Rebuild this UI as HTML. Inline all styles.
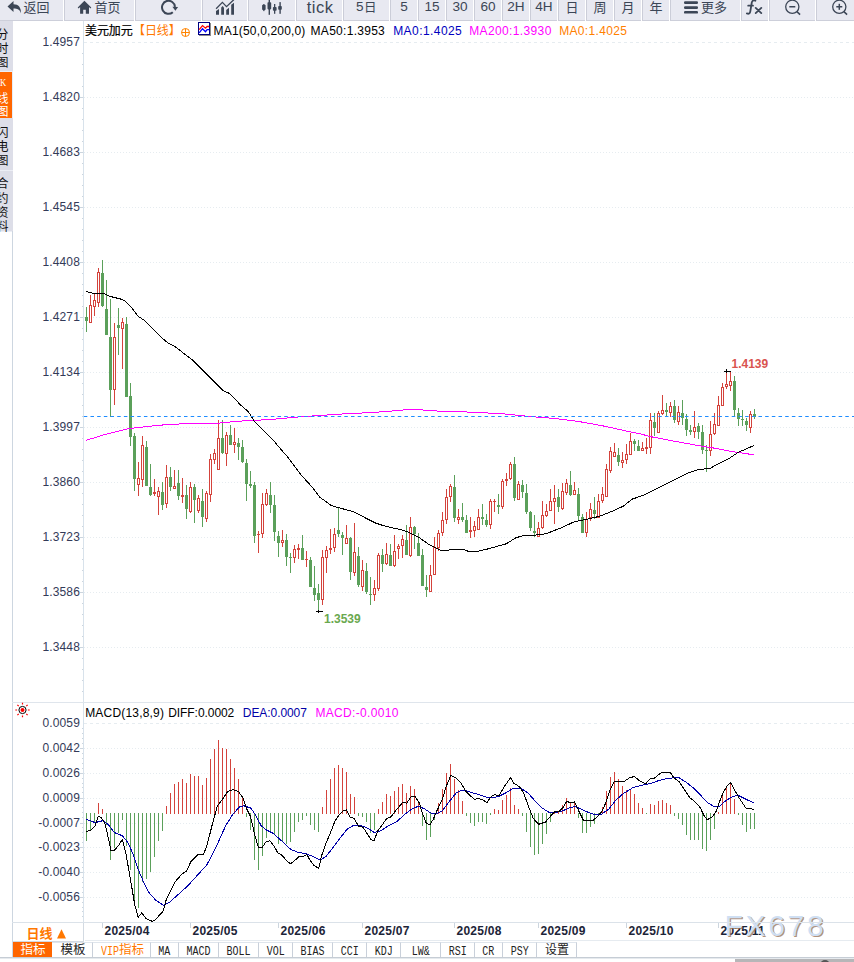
<!DOCTYPE html><html><head><meta charset="utf-8"><title>chart</title><style>
html,body{margin:0;padding:0;background:#fff}
body{width:854px;height:962px;position:relative;overflow:hidden;font-family:"Liberation Sans",sans-serif}
#tb{position:absolute;left:0;top:0;width:854px;height:21px;overflow:hidden}
.t{position:absolute;top:0;height:20px;background:#e8e9f1;border-left:1px solid #cbcdd8;border-bottom:1px solid #cdcfda}.t.f{border-left:0}
.tl{position:absolute;top:-1px;height:16px;line-height:16px;font-size:13.6px;color:#3c4656;text-align:center}
#sb{position:absolute;left:0;top:21px;width:13px;height:210px;background:#dddee8}
.s{position:absolute;left:0;width:13px;border-bottom:1px solid #eceef5}
.s.o{background:#ff6600;border:0;width:12px;border-right:1px solid #e6ecf6}
.s.o span{position:absolute;left:-0.5px;top:3.4px;font:11px/14px "Liberation Serif",serif;color:#fff;transform:scaleX(.78);transform-origin:0 0}
.yl{position:absolute;left:20px;width:60px;text-align:right;font-size:12px;line-height:14px;height:14px;color:#333a58;letter-spacing:.15px}
.h{position:absolute;font-size:12px;line-height:14px;height:14px;white-space:nowrap}
.hl{position:absolute;font-size:12px;font-weight:bold;line-height:14px;white-space:nowrap}
.dl{position:absolute;top:924px;font-size:12px;font-weight:bold;line-height:14px;color:#1c2438;white-space:nowrap;letter-spacing:.25px}
#wm{position:absolute;left:724.5px;top:905.5px;font-size:30px;line-height:40px;letter-spacing:2.7px;color:#cfdff3;text-shadow:1.2px 1.2px 0.6px rgba(150,110,80,.75);white-space:nowrap}
#rl{position:absolute;left:12px;top:922px;width:70px;height:18px;border:1px solid #d3dae2;background:#fff}
#bt{position:absolute;left:13px;top:942px;width:841px;height:15px;background:#fff}#bl{position:absolute;left:0;top:957px;width:854px;height:1px;background:#c6cdd5;border-bottom:1px solid #e6eaee}
.b{position:absolute;top:0;height:14px;border-top:1px solid #dfe5ec;border-right:1px solid #c9d0da;text-align:center;overflow:hidden;font:12px/18px "Liberation Mono",monospace}
.b span{display:inline-block;font:12px/18px "Liberation Mono",monospace;color:#222;transform:scaleX(.833);transform-origin:50% 50%;letter-spacing:0}
.b.o{background:#ff6600;border-top-color:#ff6600;border-right-color:#ff6600}
.b.v span{color:#ff7800;position:absolute;left:7.5px;top:0;transform-origin:0 50%}
#sc{position:absolute;left:735px;top:959px;width:119px;height:3px;background:#b6b6b8;overflow:hidden}#sc i{position:absolute;left:85px;top:1px;width:10px;height:10px;border-radius:5px;background:#555}
#below{display:none}
svg{position:absolute;left:0;top:0}
svg text{font-family:"Liberation Sans","Noto Sans CJK SC",sans-serif}
</style></head><body><div id="tb"><div class="t f" style="left:0px;width:63px"></div><div class="t" style="left:64px;width:69px"></div><div class="t" style="left:135px;width:65px"></div><div class="t" style="left:202px;width:44px"></div><div class="t" style="left:248px;width:46px"></div><div class="t" style="left:296px;width:45px"></div><div class="t" style="left:343px;width:45px"></div><div class="t" style="left:390px;width:26px"></div><div class="t" style="left:418px;width:26px"></div><div class="t" style="left:446px;width:26px"></div><div class="t" style="left:474px;width:26px"></div><div class="t" style="left:502px;width:26px"></div><div class="t" style="left:530px;width:26px"></div><div class="t" style="left:558px;width:26px"></div><div class="t" style="left:586px;width:26px"></div><div class="t" style="left:614px;width:26px"></div><div class="t" style="left:642px;width:26px"></div><div class="t" style="left:670px;width:69px"></div><div class="t" style="left:741px;width:26px"></div><div class="t" style="left:769px;width:45px"></div><div class="t" style="left:816px;width:52px"></div><div class="tl" style="left:390px;width:28px">5</div><div class="tl" style="left:418px;width:28px">15</div><div class="tl" style="left:446px;width:28px">30</div><div class="tl" style="left:474px;width:28px">60</div><div class="tl" style="left:502px;width:28px">2H</div><div class="tl" style="left:530px;width:28px">4H</div><div class="tl" style="left:355.2px;width:9px">5</div><div class="tl" style="left:296.5px;width:47px;font-size:16.5px;top:-0.7px;letter-spacing:.5px">tick</div></div><div id="sb"><div class="s" style="top:0;height:50px"></div><div class="s o" style="top:51px;height:46px"><span>K</span></div><div class="s" style="top:97px;height:52px"></div><div class="s" style="top:150px;height:60px"></div></div><div class="yl" style="top:35px">1.4957</div><div class="yl" style="top:90px">1.4820</div><div class="yl" style="top:145px">1.4683</div><div class="yl" style="top:200px">1.4545</div><div class="yl" style="top:255px">1.4408</div><div class="yl" style="top:310px">1.4271</div><div class="yl" style="top:365px">1.4134</div><div class="yl" style="top:420px">1.3997</div><div class="yl" style="top:475px">1.3860</div><div class="yl" style="top:530px">1.3723</div><div class="yl" style="top:585px">1.3586</div><div class="yl" style="top:640px">1.3448</div><div class="yl" style="top:716px">0.0059</div><div class="yl" style="top:741px">0.0042</div><div class="yl" style="top:766px">0.0026</div><div class="yl" style="top:791px">0.0009</div><div class="yl" style="top:816px">-0.0007</div><div class="yl" style="top:840px">-0.0023</div><div class="yl" style="top:865px">-0.0040</div><div class="yl" style="top:890px">-0.0056</div><div class="h" style="left:213.6px;top:24px;color:#000;letter-spacing:0.17px">MA1(50,0,200,0)</div><div class="h" style="left:310.6px;top:24px;color:#000;letter-spacing:0.28px">MA50:1.3953</div><div class="h" style="left:393.2px;top:24px;color:#0000c0;letter-spacing:0.43px">MA0:1.4025</div><div class="h" style="left:469.2px;top:24px;color:#ff00ff;letter-spacing:0.37px">MA200:1.3930</div><div class="h" style="left:559.2px;top:24px;color:#ff8000;letter-spacing:0.33px">MA0:1.4025</div><div class="h" style="left:85.2px;top:706px;color:#000;letter-spacing:0.19px">MACD(13,8,9)</div><div class="h" style="left:168.2px;top:706px;color:#000;letter-spacing:-0.06px">DIFF:0.0002</div><div class="h" style="left:242.8px;top:706px;color:#0000a8;letter-spacing:-0.07px">DEA:0.0007</div><div class="h" style="left:315.4px;top:706px;color:#ff00ff;letter-spacing:0.34px">MACD:-0.0010</div><div class="hl" style="left:731.5px;top:357px;color:#d9534f">1.4139</div><div class="hl" style="left:324px;top:612px;color:#6aa84f">1.3539</div><div class="dl" style="left:104.5px">2025/04</div><div class="dl" style="left:192.5px">2025/05</div><div class="dl" style="left:280.5px">2025/06</div><div class="dl" style="left:364.5px">2025/07</div><div class="dl" style="left:456.5px">2025/08</div><div class="dl" style="left:540.5px">2025/09</div><div class="dl" style="left:628.5px">2025/10</div><div class="dl" style="left:720.5px">2025/11</div><div id="wm">FX678</div><div id="rl"></div><div id="bt"><div class="b o" style="left:0px;width:38px"><span></span></div><div class="b " style="left:39px;width:40px"><span></span></div><div class="b v" style="left:80px;width:57px"><span>VIP</span></div><div class="b " style="left:138px;width:27px"><span>MA</span></div><div class="b " style="left:166px;width:39px"><span>MACD</span></div><div class="b " style="left:206px;width:39px"><span>BOLL</span></div><div class="b " style="left:246px;width:33px"><span>VOL</span></div><div class="b " style="left:280px;width:39px"><span>BIAS</span></div><div class="b " style="left:320px;width:33px"><span>CCI</span></div><div class="b " style="left:354px;width:33px"><span>KDJ</span></div><div class="b " style="left:388px;width:39px"><span>LW&amp;</span></div><div class="b " style="left:428px;width:33px"><span>RSI</span></div><div class="b " style="left:462px;width:27px"><span>CR</span></div><div class="b " style="left:490px;width:33px"><span>PSY</span></div><div class="b " style="left:524px;width:39px"><span></span></div></div><div id="bl"></div><div id="sc"><i></i></div><div id="below"></div><svg width="854" height="962" viewBox="0 0 854 962"><g shape-rendering="crispEdges"><line x1="84" y1="42.5" x2="854" y2="42.5" stroke="#e6ecf0" stroke-dasharray="3 3"/><line x1="84" y1="97.5" x2="854" y2="97.5" stroke="#e6ecf0" stroke-dasharray="1 2"/><line x1="84" y1="152.5" x2="854" y2="152.5" stroke="#e6ecf0" stroke-dasharray="1 2"/><line x1="84" y1="207.5" x2="854" y2="207.5" stroke="#e6ecf0" stroke-dasharray="1 2"/><line x1="84" y1="262.5" x2="854" y2="262.5" stroke="#e6ecf0" stroke-dasharray="1 2"/><line x1="84" y1="317.5" x2="854" y2="317.5" stroke="#e6ecf0" stroke-dasharray="1 2"/><line x1="84" y1="372.5" x2="854" y2="372.5" stroke="#e6ecf0" stroke-dasharray="1 2"/><line x1="84" y1="427.5" x2="854" y2="427.5" stroke="#e6ecf0" stroke-dasharray="1 2"/><line x1="84" y1="482.5" x2="854" y2="482.5" stroke="#e6ecf0" stroke-dasharray="1 2"/><line x1="84" y1="537.5" x2="854" y2="537.5" stroke="#e6ecf0" stroke-dasharray="1 2"/><line x1="84" y1="592.5" x2="854" y2="592.5" stroke="#e6ecf0" stroke-dasharray="1 2"/><line x1="84" y1="647.5" x2="854" y2="647.5" stroke="#e6ecf0" stroke-dasharray="1 2"/><line x1="84" y1="723.5" x2="854" y2="723.5" stroke="#e6ecf0" stroke-dasharray="3 3"/><line x1="84" y1="748.5" x2="854" y2="748.5" stroke="#e6ecf0" stroke-dasharray="1 2"/><line x1="84" y1="773.5" x2="854" y2="773.5" stroke="#e6ecf0" stroke-dasharray="1 2"/><line x1="84" y1="798.5" x2="854" y2="798.5" stroke="#e6ecf0" stroke-dasharray="1 2"/><line x1="84" y1="823.5" x2="854" y2="823.5" stroke="#e6ecf0" stroke-dasharray="1 2"/><line x1="84" y1="847.5" x2="854" y2="847.5" stroke="#e6ecf0" stroke-dasharray="1 2"/><line x1="84" y1="872.5" x2="854" y2="872.5" stroke="#e6ecf0" stroke-dasharray="1 2"/><line x1="84" y1="897.5" x2="854" y2="897.5" stroke="#e6ecf0" stroke-dasharray="1 2"/><rect x="83" y="21" width="1" height="901" fill="#d8e2eb"/><rect x="12" y="231" width="1" height="727" fill="#cdd6e0"/><rect x="12" y="702" width="842" height="1" fill="#dfe5ec"/><rect x="12" y="922" width="842" height="1" fill="#dbe2e9"/><rect x="85" y="940" width="769" height="1" fill="#e6ebf0"/><rect x="82" y="53" width="1" height="1" fill="#ccd5de"/><rect x="82" y="64" width="1" height="1" fill="#ccd5de"/><rect x="82" y="75" width="1" height="1" fill="#ccd5de"/><rect x="82" y="86" width="1" height="1" fill="#ccd5de"/><rect x="80" y="97" width="3" height="1" fill="#ccd5de"/><rect x="82" y="108" width="1" height="1" fill="#ccd5de"/><rect x="82" y="119" width="1" height="1" fill="#ccd5de"/><rect x="82" y="130" width="1" height="1" fill="#ccd5de"/><rect x="82" y="141" width="1" height="1" fill="#ccd5de"/><rect x="80" y="152" width="3" height="1" fill="#ccd5de"/><rect x="82" y="163" width="1" height="1" fill="#ccd5de"/><rect x="82" y="174" width="1" height="1" fill="#ccd5de"/><rect x="82" y="185" width="1" height="1" fill="#ccd5de"/><rect x="82" y="196" width="1" height="1" fill="#ccd5de"/><rect x="80" y="207" width="3" height="1" fill="#ccd5de"/><rect x="82" y="218" width="1" height="1" fill="#ccd5de"/><rect x="82" y="229" width="1" height="1" fill="#ccd5de"/><rect x="82" y="240" width="1" height="1" fill="#ccd5de"/><rect x="82" y="251" width="1" height="1" fill="#ccd5de"/><rect x="80" y="262" width="3" height="1" fill="#ccd5de"/><rect x="82" y="273" width="1" height="1" fill="#ccd5de"/><rect x="82" y="284" width="1" height="1" fill="#ccd5de"/><rect x="82" y="295" width="1" height="1" fill="#ccd5de"/><rect x="82" y="306" width="1" height="1" fill="#ccd5de"/><rect x="80" y="317" width="3" height="1" fill="#ccd5de"/><rect x="82" y="328" width="1" height="1" fill="#ccd5de"/><rect x="82" y="339" width="1" height="1" fill="#ccd5de"/><rect x="82" y="350" width="1" height="1" fill="#ccd5de"/><rect x="82" y="361" width="1" height="1" fill="#ccd5de"/><rect x="80" y="372" width="3" height="1" fill="#ccd5de"/><rect x="82" y="383" width="1" height="1" fill="#ccd5de"/><rect x="82" y="394" width="1" height="1" fill="#ccd5de"/><rect x="82" y="405" width="1" height="1" fill="#ccd5de"/><rect x="82" y="416" width="1" height="1" fill="#ccd5de"/><rect x="80" y="427" width="3" height="1" fill="#ccd5de"/><rect x="82" y="438" width="1" height="1" fill="#ccd5de"/><rect x="82" y="449" width="1" height="1" fill="#ccd5de"/><rect x="82" y="460" width="1" height="1" fill="#ccd5de"/><rect x="82" y="471" width="1" height="1" fill="#ccd5de"/><rect x="80" y="482" width="3" height="1" fill="#ccd5de"/><rect x="82" y="493" width="1" height="1" fill="#ccd5de"/><rect x="82" y="504" width="1" height="1" fill="#ccd5de"/><rect x="82" y="515" width="1" height="1" fill="#ccd5de"/><rect x="82" y="526" width="1" height="1" fill="#ccd5de"/><rect x="80" y="537" width="3" height="1" fill="#ccd5de"/><rect x="82" y="548" width="1" height="1" fill="#ccd5de"/><rect x="82" y="559" width="1" height="1" fill="#ccd5de"/><rect x="82" y="570" width="1" height="1" fill="#ccd5de"/><rect x="82" y="581" width="1" height="1" fill="#ccd5de"/><rect x="80" y="592" width="3" height="1" fill="#ccd5de"/><rect x="82" y="603" width="1" height="1" fill="#ccd5de"/><rect x="82" y="614" width="1" height="1" fill="#ccd5de"/><rect x="82" y="625" width="1" height="1" fill="#ccd5de"/><rect x="82" y="636" width="1" height="1" fill="#ccd5de"/><rect x="80" y="647" width="3" height="1" fill="#ccd5de"/><rect x="82" y="658" width="1" height="1" fill="#ccd5de"/><rect x="82" y="669" width="1" height="1" fill="#ccd5de"/><rect x="82" y="680" width="1" height="1" fill="#ccd5de"/><rect x="82" y="691" width="1" height="1" fill="#ccd5de"/><rect x="80" y="748" width="3" height="1" fill="#ccd5de"/><rect x="80" y="773" width="3" height="1" fill="#ccd5de"/><rect x="80" y="798" width="3" height="1" fill="#ccd5de"/><rect x="80" y="823" width="3" height="1" fill="#ccd5de"/><rect x="80" y="847" width="3" height="1" fill="#ccd5de"/><rect x="80" y="872" width="3" height="1" fill="#ccd5de"/><rect x="80" y="897" width="3" height="1" fill="#ccd5de"/><rect x="82" y="728" width="1" height="1" fill="#ccd5de"/><rect x="82" y="733" width="1" height="1" fill="#ccd5de"/><rect x="82" y="738" width="1" height="1" fill="#ccd5de"/><rect x="82" y="743" width="1" height="1" fill="#ccd5de"/><rect x="82" y="753" width="1" height="1" fill="#ccd5de"/><rect x="82" y="758" width="1" height="1" fill="#ccd5de"/><rect x="82" y="763" width="1" height="1" fill="#ccd5de"/><rect x="82" y="768" width="1" height="1" fill="#ccd5de"/><rect x="82" y="778" width="1" height="1" fill="#ccd5de"/><rect x="82" y="783" width="1" height="1" fill="#ccd5de"/><rect x="82" y="787" width="1" height="1" fill="#ccd5de"/><rect x="82" y="792" width="1" height="1" fill="#ccd5de"/><rect x="82" y="802" width="1" height="1" fill="#ccd5de"/><rect x="82" y="807" width="1" height="1" fill="#ccd5de"/><rect x="82" y="812" width="1" height="1" fill="#ccd5de"/><rect x="82" y="817" width="1" height="1" fill="#ccd5de"/><rect x="82" y="827" width="1" height="1" fill="#ccd5de"/><rect x="82" y="832" width="1" height="1" fill="#ccd5de"/><rect x="82" y="837" width="1" height="1" fill="#ccd5de"/><rect x="82" y="842" width="1" height="1" fill="#ccd5de"/><rect x="82" y="852" width="1" height="1" fill="#ccd5de"/><rect x="82" y="857" width="1" height="1" fill="#ccd5de"/><rect x="82" y="862" width="1" height="1" fill="#ccd5de"/><rect x="82" y="867" width="1" height="1" fill="#ccd5de"/><rect x="82" y="877" width="1" height="1" fill="#ccd5de"/><rect x="82" y="882" width="1" height="1" fill="#ccd5de"/><rect x="82" y="887" width="1" height="1" fill="#ccd5de"/><rect x="82" y="892" width="1" height="1" fill="#ccd5de"/><rect x="82" y="902" width="1" height="1" fill="#ccd5de"/><rect x="82" y="907" width="1" height="1" fill="#ccd5de"/><rect x="82" y="911" width="1" height="1" fill="#ccd5de"/><rect x="82" y="916" width="1" height="1" fill="#ccd5de"/></g><g shape-rendering="crispEdges"><rect x="86" y="307" width="1" height="25" fill="#5ba05a"/><rect x="85" y="317" width="3" height="4" fill="#5ba05a"/><rect x="90" y="295" width="1" height="10" fill="#d4433c"/><rect x="89" y="305" width="3" height="18" fill="#d4433c"/><rect x="90" y="306" width="1" height="16" fill="#fff"/><rect x="94" y="294" width="1" height="6" fill="#d4433c"/><rect x="94" y="307" width="1" height="9" fill="#d4433c"/><rect x="93" y="300" width="3" height="7" fill="#d4433c"/><rect x="94" y="301" width="1" height="5" fill="#fff"/><rect x="98" y="268" width="1" height="4" fill="#d4433c"/><rect x="98" y="303" width="1" height="4" fill="#d4433c"/><rect x="97" y="272" width="3" height="31" fill="#d4433c"/><rect x="98" y="273" width="1" height="29" fill="#fff"/><rect x="102" y="260" width="1" height="47" fill="#5ba05a"/><rect x="101" y="273" width="3" height="33" fill="#5ba05a"/><rect x="106" y="280" width="1" height="55" fill="#5ba05a"/><rect x="105" y="309" width="3" height="26" fill="#5ba05a"/><rect x="110" y="299" width="1" height="118" fill="#5ba05a"/><rect x="109" y="337" width="3" height="53" fill="#5ba05a"/><rect x="114" y="323" width="1" height="14" fill="#d4433c"/><rect x="114" y="390" width="1" height="15" fill="#d4433c"/><rect x="113" y="337" width="3" height="53" fill="#d4433c"/><rect x="114" y="338" width="1" height="51" fill="#fff"/><rect x="118" y="308" width="1" height="47" fill="#5ba05a"/><rect x="117" y="325" width="3" height="3" fill="#5ba05a"/><rect x="122" y="318" width="1" height="4" fill="#d4433c"/><rect x="122" y="329" width="1" height="40" fill="#d4433c"/><rect x="121" y="322" width="3" height="7" fill="#d4433c"/><rect x="122" y="323" width="1" height="5" fill="#fff"/><rect x="126" y="317" width="1" height="80" fill="#5ba05a"/><rect x="125" y="324" width="3" height="73" fill="#5ba05a"/><rect x="130" y="383" width="1" height="63" fill="#5ba05a"/><rect x="129" y="396" width="3" height="41" fill="#5ba05a"/><rect x="134" y="433" width="1" height="58" fill="#5ba05a"/><rect x="133" y="436" width="3" height="43" fill="#5ba05a"/><rect x="138" y="462" width="1" height="16" fill="#d4433c"/><rect x="138" y="485" width="1" height="11" fill="#d4433c"/><rect x="137" y="478" width="3" height="7" fill="#d4433c"/><rect x="138" y="479" width="1" height="5" fill="#fff"/><rect x="142" y="436" width="1" height="9" fill="#d4433c"/><rect x="142" y="480" width="1" height="7" fill="#d4433c"/><rect x="141" y="445" width="3" height="35" fill="#d4433c"/><rect x="142" y="446" width="1" height="33" fill="#fff"/><rect x="146" y="441" width="1" height="45" fill="#5ba05a"/><rect x="145" y="447" width="3" height="39" fill="#5ba05a"/><rect x="150" y="464" width="1" height="32" fill="#5ba05a"/><rect x="149" y="487" width="3" height="8" fill="#5ba05a"/><rect x="154" y="479" width="1" height="13" fill="#d4433c"/><rect x="154" y="494" width="1" height="2" fill="#d4433c"/><rect x="153" y="492" width="3" height="2" fill="#d4433c"/><rect x="158" y="487" width="1" height="4" fill="#d4433c"/><rect x="158" y="497" width="1" height="18" fill="#d4433c"/><rect x="157" y="491" width="3" height="6" fill="#d4433c"/><rect x="158" y="492" width="1" height="4" fill="#fff"/><rect x="162" y="482" width="1" height="28" fill="#5ba05a"/><rect x="161" y="492" width="3" height="13" fill="#5ba05a"/><rect x="166" y="465" width="1" height="12" fill="#d4433c"/><rect x="166" y="504" width="1" height="4" fill="#d4433c"/><rect x="165" y="477" width="3" height="27" fill="#d4433c"/><rect x="166" y="478" width="1" height="25" fill="#fff"/><rect x="170" y="467" width="1" height="24" fill="#5ba05a"/><rect x="169" y="477" width="3" height="10" fill="#5ba05a"/><rect x="174" y="470" width="1" height="16" fill="#d4433c"/><rect x="173" y="486" width="3" height="3" fill="#d4433c"/><rect x="174" y="487" width="1" height="1" fill="#fff"/><rect x="178" y="470" width="1" height="30" fill="#5ba05a"/><rect x="177" y="483" width="3" height="13" fill="#5ba05a"/><rect x="182" y="478" width="1" height="17" fill="#d4433c"/><rect x="182" y="497" width="1" height="6" fill="#d4433c"/><rect x="181" y="495" width="3" height="2" fill="#d4433c"/><rect x="186" y="485" width="1" height="34" fill="#5ba05a"/><rect x="185" y="495" width="3" height="14" fill="#5ba05a"/><rect x="190" y="482" width="1" height="5" fill="#d4433c"/><rect x="190" y="512" width="1" height="1" fill="#d4433c"/><rect x="189" y="487" width="3" height="25" fill="#d4433c"/><rect x="190" y="488" width="1" height="23" fill="#fff"/><rect x="194" y="484" width="1" height="39" fill="#5ba05a"/><rect x="193" y="487" width="3" height="13" fill="#5ba05a"/><rect x="198" y="495" width="1" height="3" fill="#d4433c"/><rect x="198" y="511" width="1" height="2" fill="#d4433c"/><rect x="197" y="498" width="3" height="13" fill="#d4433c"/><rect x="198" y="499" width="1" height="11" fill="#fff"/><rect x="202" y="489" width="1" height="38" fill="#5ba05a"/><rect x="201" y="501" width="3" height="16" fill="#5ba05a"/><rect x="206" y="491" width="1" height="2" fill="#d4433c"/><rect x="206" y="519" width="1" height="3" fill="#d4433c"/><rect x="205" y="493" width="3" height="26" fill="#d4433c"/><rect x="206" y="494" width="1" height="24" fill="#fff"/><rect x="210" y="454" width="1" height="5" fill="#d4433c"/><rect x="210" y="495" width="1" height="7" fill="#d4433c"/><rect x="209" y="459" width="3" height="36" fill="#d4433c"/><rect x="210" y="460" width="1" height="34" fill="#fff"/><rect x="214" y="449" width="1" height="4" fill="#d4433c"/><rect x="214" y="460" width="1" height="4" fill="#d4433c"/><rect x="213" y="453" width="3" height="7" fill="#d4433c"/><rect x="214" y="454" width="1" height="5" fill="#fff"/><rect x="218" y="420" width="1" height="18" fill="#d4433c"/><rect x="217" y="438" width="3" height="32" fill="#d4433c"/><rect x="218" y="439" width="1" height="30" fill="#fff"/><rect x="222" y="420" width="1" height="34" fill="#5ba05a"/><rect x="221" y="438" width="3" height="15" fill="#5ba05a"/><rect x="226" y="432" width="1" height="3" fill="#d4433c"/><rect x="226" y="454" width="1" height="12" fill="#d4433c"/><rect x="225" y="435" width="3" height="19" fill="#d4433c"/><rect x="226" y="436" width="1" height="17" fill="#fff"/><rect x="230" y="425" width="1" height="20" fill="#5ba05a"/><rect x="229" y="435" width="3" height="10" fill="#5ba05a"/><rect x="234" y="428" width="1" height="14" fill="#d4433c"/><rect x="234" y="445" width="1" height="8" fill="#d4433c"/><rect x="233" y="442" width="3" height="3" fill="#d4433c"/><rect x="234" y="443" width="1" height="1" fill="#fff"/><rect x="238" y="438" width="1" height="22" fill="#5ba05a"/><rect x="237" y="443" width="3" height="4" fill="#5ba05a"/><rect x="242" y="440" width="1" height="23" fill="#5ba05a"/><rect x="241" y="447" width="3" height="15" fill="#5ba05a"/><rect x="246" y="459" width="1" height="42" fill="#5ba05a"/><rect x="245" y="463" width="3" height="21" fill="#5ba05a"/><rect x="250" y="471" width="1" height="17" fill="#5ba05a"/><rect x="249" y="484" width="3" height="2" fill="#5ba05a"/><rect x="254" y="482" width="1" height="61" fill="#5ba05a"/><rect x="253" y="485" width="3" height="51" fill="#5ba05a"/><rect x="258" y="531" width="1" height="3" fill="#d4433c"/><rect x="258" y="535" width="1" height="18" fill="#d4433c"/><rect x="257" y="534" width="3" height="1" fill="#d4433c"/><rect x="262" y="493" width="1" height="11" fill="#d4433c"/><rect x="262" y="534" width="1" height="4" fill="#d4433c"/><rect x="261" y="504" width="3" height="30" fill="#d4433c"/><rect x="262" y="505" width="1" height="28" fill="#fff"/><rect x="266" y="489" width="1" height="4" fill="#d4433c"/><rect x="266" y="505" width="1" height="1" fill="#d4433c"/><rect x="265" y="493" width="3" height="12" fill="#d4433c"/><rect x="266" y="494" width="1" height="10" fill="#fff"/><rect x="270" y="482" width="1" height="31" fill="#5ba05a"/><rect x="269" y="495" width="3" height="10" fill="#5ba05a"/><rect x="274" y="495" width="1" height="46" fill="#5ba05a"/><rect x="273" y="505" width="3" height="27" fill="#5ba05a"/><rect x="278" y="531" width="1" height="26" fill="#5ba05a"/><rect x="277" y="536" width="3" height="7" fill="#5ba05a"/><rect x="282" y="530" width="1" height="10" fill="#d4433c"/><rect x="282" y="543" width="1" height="4" fill="#d4433c"/><rect x="281" y="540" width="3" height="3" fill="#d4433c"/><rect x="282" y="541" width="1" height="1" fill="#fff"/><rect x="286" y="534" width="1" height="32" fill="#5ba05a"/><rect x="285" y="540" width="3" height="17" fill="#5ba05a"/><rect x="290" y="553" width="1" height="20" fill="#5ba05a"/><rect x="289" y="557" width="3" height="1" fill="#5ba05a"/><rect x="294" y="545" width="1" height="4" fill="#d4433c"/><rect x="294" y="558" width="1" height="5" fill="#d4433c"/><rect x="293" y="549" width="3" height="9" fill="#d4433c"/><rect x="294" y="550" width="1" height="7" fill="#fff"/><rect x="298" y="544" width="1" height="4" fill="#d4433c"/><rect x="298" y="550" width="1" height="9" fill="#d4433c"/><rect x="297" y="548" width="3" height="2" fill="#d4433c"/><rect x="302" y="535" width="1" height="25" fill="#5ba05a"/><rect x="301" y="548" width="3" height="12" fill="#5ba05a"/><rect x="306" y="551" width="1" height="8" fill="#d4433c"/><rect x="306" y="560" width="1" height="7" fill="#d4433c"/><rect x="305" y="559" width="3" height="1" fill="#d4433c"/><rect x="310" y="557" width="1" height="30" fill="#5ba05a"/><rect x="309" y="560" width="3" height="27" fill="#5ba05a"/><rect x="314" y="566" width="1" height="35" fill="#5ba05a"/><rect x="313" y="588" width="3" height="7" fill="#5ba05a"/><rect x="318" y="584" width="1" height="27" fill="#5ba05a"/><rect x="317" y="593" width="3" height="7" fill="#5ba05a"/><rect x="322" y="550" width="1" height="7" fill="#d4433c"/><rect x="322" y="600" width="1" height="5" fill="#d4433c"/><rect x="321" y="557" width="3" height="43" fill="#d4433c"/><rect x="322" y="558" width="1" height="41" fill="#fff"/><rect x="326" y="546" width="1" height="4" fill="#d4433c"/><rect x="326" y="558" width="1" height="15" fill="#d4433c"/><rect x="325" y="550" width="3" height="8" fill="#d4433c"/><rect x="326" y="551" width="1" height="6" fill="#fff"/><rect x="330" y="529" width="1" height="19" fill="#d4433c"/><rect x="330" y="550" width="1" height="4" fill="#d4433c"/><rect x="329" y="548" width="3" height="2" fill="#d4433c"/><rect x="334" y="528" width="1" height="6" fill="#d4433c"/><rect x="334" y="548" width="1" height="4" fill="#d4433c"/><rect x="333" y="534" width="3" height="14" fill="#d4433c"/><rect x="334" y="535" width="1" height="12" fill="#fff"/><rect x="338" y="508" width="1" height="29" fill="#5ba05a"/><rect x="337" y="530" width="3" height="4" fill="#5ba05a"/><rect x="342" y="532" width="1" height="23" fill="#5ba05a"/><rect x="341" y="535" width="3" height="3" fill="#5ba05a"/><rect x="346" y="525" width="1" height="13" fill="#d4433c"/><rect x="345" y="538" width="3" height="6" fill="#d4433c"/><rect x="346" y="539" width="1" height="4" fill="#fff"/><rect x="350" y="537" width="1" height="43" fill="#5ba05a"/><rect x="349" y="538" width="3" height="34" fill="#5ba05a"/><rect x="354" y="523" width="1" height="29" fill="#d4433c"/><rect x="354" y="573" width="1" height="3" fill="#d4433c"/><rect x="353" y="552" width="3" height="21" fill="#d4433c"/><rect x="354" y="553" width="1" height="19" fill="#fff"/><rect x="358" y="547" width="1" height="40" fill="#5ba05a"/><rect x="357" y="556" width="3" height="29" fill="#5ba05a"/><rect x="362" y="560" width="1" height="10" fill="#d4433c"/><rect x="362" y="587" width="1" height="4" fill="#d4433c"/><rect x="361" y="570" width="3" height="17" fill="#d4433c"/><rect x="362" y="571" width="1" height="15" fill="#fff"/><rect x="366" y="563" width="1" height="31" fill="#5ba05a"/><rect x="365" y="571" width="3" height="21" fill="#5ba05a"/><rect x="370" y="577" width="1" height="28" fill="#5ba05a"/><rect x="369" y="594" width="3" height="1" fill="#5ba05a"/><rect x="374" y="580" width="1" height="8" fill="#d4433c"/><rect x="374" y="595" width="1" height="6" fill="#d4433c"/><rect x="373" y="588" width="3" height="7" fill="#d4433c"/><rect x="374" y="589" width="1" height="5" fill="#fff"/><rect x="378" y="553" width="1" height="2" fill="#d4433c"/><rect x="378" y="589" width="1" height="2" fill="#d4433c"/><rect x="377" y="555" width="3" height="34" fill="#d4433c"/><rect x="378" y="556" width="1" height="32" fill="#fff"/><rect x="382" y="549" width="1" height="23" fill="#5ba05a"/><rect x="381" y="555" width="3" height="9" fill="#5ba05a"/><rect x="386" y="543" width="1" height="11" fill="#d4433c"/><rect x="386" y="564" width="1" height="1" fill="#d4433c"/><rect x="385" y="554" width="3" height="10" fill="#d4433c"/><rect x="386" y="555" width="1" height="8" fill="#fff"/><rect x="390" y="544" width="1" height="22" fill="#5ba05a"/><rect x="389" y="555" width="3" height="11" fill="#5ba05a"/><rect x="394" y="535" width="1" height="16" fill="#d4433c"/><rect x="394" y="566" width="1" height="1" fill="#d4433c"/><rect x="393" y="551" width="3" height="15" fill="#d4433c"/><rect x="394" y="552" width="1" height="13" fill="#fff"/><rect x="398" y="544" width="1" height="2" fill="#d4433c"/><rect x="398" y="549" width="1" height="10" fill="#d4433c"/><rect x="397" y="546" width="3" height="3" fill="#d4433c"/><rect x="398" y="547" width="1" height="1" fill="#fff"/><rect x="402" y="535" width="1" height="4" fill="#d4433c"/><rect x="402" y="546" width="1" height="12" fill="#d4433c"/><rect x="401" y="539" width="3" height="7" fill="#d4433c"/><rect x="402" y="540" width="1" height="5" fill="#fff"/><rect x="406" y="525" width="1" height="30" fill="#5ba05a"/><rect x="405" y="540" width="3" height="15" fill="#5ba05a"/><rect x="410" y="517" width="1" height="10" fill="#d4433c"/><rect x="410" y="556" width="1" height="1" fill="#d4433c"/><rect x="409" y="527" width="3" height="29" fill="#d4433c"/><rect x="410" y="528" width="1" height="27" fill="#fff"/><rect x="414" y="526" width="1" height="23" fill="#5ba05a"/><rect x="413" y="527" width="3" height="7" fill="#5ba05a"/><rect x="418" y="533" width="1" height="23" fill="#5ba05a"/><rect x="417" y="543" width="3" height="13" fill="#5ba05a"/><rect x="422" y="549" width="1" height="37" fill="#5ba05a"/><rect x="421" y="555" width="3" height="31" fill="#5ba05a"/><rect x="426" y="575" width="1" height="22" fill="#5ba05a"/><rect x="425" y="587" width="3" height="3" fill="#5ba05a"/><rect x="430" y="565" width="1" height="10" fill="#d4433c"/><rect x="429" y="575" width="3" height="17" fill="#d4433c"/><rect x="430" y="576" width="1" height="15" fill="#fff"/><rect x="434" y="537" width="1" height="10" fill="#d4433c"/><rect x="433" y="547" width="3" height="28" fill="#d4433c"/><rect x="434" y="548" width="1" height="26" fill="#fff"/><rect x="438" y="530" width="1" height="3" fill="#d4433c"/><rect x="438" y="548" width="1" height="3" fill="#d4433c"/><rect x="437" y="533" width="3" height="15" fill="#d4433c"/><rect x="438" y="534" width="1" height="13" fill="#fff"/><rect x="442" y="512" width="1" height="8" fill="#d4433c"/><rect x="442" y="533" width="1" height="3" fill="#d4433c"/><rect x="441" y="520" width="3" height="13" fill="#d4433c"/><rect x="442" y="521" width="1" height="11" fill="#fff"/><rect x="446" y="489" width="1" height="8" fill="#d4433c"/><rect x="446" y="520" width="1" height="4" fill="#d4433c"/><rect x="445" y="497" width="3" height="23" fill="#d4433c"/><rect x="446" y="498" width="1" height="21" fill="#fff"/><rect x="450" y="484" width="1" height="2" fill="#d4433c"/><rect x="450" y="497" width="1" height="5" fill="#d4433c"/><rect x="449" y="486" width="3" height="11" fill="#d4433c"/><rect x="450" y="487" width="1" height="9" fill="#fff"/><rect x="454" y="475" width="1" height="47" fill="#5ba05a"/><rect x="453" y="487" width="3" height="31" fill="#5ba05a"/><rect x="458" y="509" width="1" height="8" fill="#d4433c"/><rect x="458" y="520" width="1" height="4" fill="#d4433c"/><rect x="457" y="517" width="3" height="3" fill="#d4433c"/><rect x="458" y="518" width="1" height="1" fill="#fff"/><rect x="462" y="503" width="1" height="19" fill="#5ba05a"/><rect x="461" y="517" width="3" height="3" fill="#5ba05a"/><rect x="466" y="515" width="1" height="18" fill="#5ba05a"/><rect x="465" y="520" width="3" height="13" fill="#5ba05a"/><rect x="470" y="517" width="1" height="13" fill="#d4433c"/><rect x="470" y="532" width="1" height="6" fill="#d4433c"/><rect x="469" y="530" width="3" height="2" fill="#d4433c"/><rect x="474" y="521" width="1" height="5" fill="#d4433c"/><rect x="474" y="531" width="1" height="6" fill="#d4433c"/><rect x="473" y="526" width="3" height="5" fill="#d4433c"/><rect x="474" y="527" width="1" height="3" fill="#fff"/><rect x="478" y="509" width="1" height="8" fill="#d4433c"/><rect x="477" y="517" width="3" height="13" fill="#d4433c"/><rect x="478" y="518" width="1" height="11" fill="#fff"/><rect x="482" y="504" width="1" height="21" fill="#5ba05a"/><rect x="481" y="517" width="3" height="2" fill="#5ba05a"/><rect x="486" y="514" width="1" height="13" fill="#5ba05a"/><rect x="485" y="520" width="3" height="5" fill="#5ba05a"/><rect x="490" y="499" width="1" height="2" fill="#d4433c"/><rect x="490" y="525" width="1" height="4" fill="#d4433c"/><rect x="489" y="501" width="3" height="24" fill="#d4433c"/><rect x="490" y="502" width="1" height="22" fill="#fff"/><rect x="494" y="499" width="1" height="2" fill="#d4433c"/><rect x="494" y="502" width="1" height="10" fill="#d4433c"/><rect x="493" y="501" width="3" height="1" fill="#d4433c"/><rect x="498" y="494" width="1" height="20" fill="#5ba05a"/><rect x="497" y="505" width="3" height="2" fill="#5ba05a"/><rect x="502" y="479" width="1" height="2" fill="#d4433c"/><rect x="502" y="507" width="1" height="2" fill="#d4433c"/><rect x="501" y="481" width="3" height="26" fill="#d4433c"/><rect x="502" y="482" width="1" height="24" fill="#fff"/><rect x="506" y="473" width="1" height="6" fill="#d4433c"/><rect x="506" y="481" width="1" height="5" fill="#d4433c"/><rect x="505" y="479" width="3" height="2" fill="#d4433c"/><rect x="510" y="462" width="1" height="2" fill="#d4433c"/><rect x="510" y="479" width="1" height="1" fill="#d4433c"/><rect x="509" y="464" width="3" height="15" fill="#d4433c"/><rect x="510" y="465" width="1" height="13" fill="#fff"/><rect x="514" y="457" width="1" height="44" fill="#5ba05a"/><rect x="513" y="464" width="3" height="34" fill="#5ba05a"/><rect x="518" y="481" width="1" height="3" fill="#d4433c"/><rect x="517" y="484" width="3" height="16" fill="#d4433c"/><rect x="518" y="485" width="1" height="14" fill="#fff"/><rect x="522" y="480" width="1" height="18" fill="#5ba05a"/><rect x="521" y="485" width="3" height="7" fill="#5ba05a"/><rect x="526" y="484" width="1" height="30" fill="#5ba05a"/><rect x="525" y="493" width="3" height="19" fill="#5ba05a"/><rect x="530" y="511" width="1" height="20" fill="#5ba05a"/><rect x="529" y="512" width="3" height="16" fill="#5ba05a"/><rect x="534" y="515" width="1" height="22" fill="#5ba05a"/><rect x="533" y="531" width="3" height="2" fill="#5ba05a"/><rect x="538" y="522" width="1" height="6" fill="#d4433c"/><rect x="537" y="528" width="3" height="9" fill="#d4433c"/><rect x="538" y="529" width="1" height="7" fill="#fff"/><rect x="542" y="501" width="1" height="14" fill="#d4433c"/><rect x="542" y="528" width="1" height="1" fill="#d4433c"/><rect x="541" y="515" width="3" height="13" fill="#d4433c"/><rect x="542" y="516" width="1" height="11" fill="#fff"/><rect x="546" y="504" width="1" height="7" fill="#d4433c"/><rect x="546" y="516" width="1" height="1" fill="#d4433c"/><rect x="545" y="511" width="3" height="5" fill="#d4433c"/><rect x="546" y="512" width="1" height="3" fill="#fff"/><rect x="550" y="489" width="1" height="12" fill="#d4433c"/><rect x="549" y="501" width="3" height="10" fill="#d4433c"/><rect x="550" y="502" width="1" height="8" fill="#fff"/><rect x="554" y="485" width="1" height="13" fill="#d4433c"/><rect x="554" y="502" width="1" height="22" fill="#d4433c"/><rect x="553" y="498" width="3" height="4" fill="#d4433c"/><rect x="554" y="499" width="1" height="2" fill="#fff"/><rect x="558" y="489" width="1" height="23" fill="#5ba05a"/><rect x="557" y="497" width="3" height="10" fill="#5ba05a"/><rect x="562" y="483" width="1" height="8" fill="#d4433c"/><rect x="562" y="509" width="1" height="1" fill="#d4433c"/><rect x="561" y="491" width="3" height="18" fill="#d4433c"/><rect x="562" y="492" width="1" height="16" fill="#fff"/><rect x="566" y="479" width="1" height="4" fill="#d4433c"/><rect x="566" y="493" width="1" height="2" fill="#d4433c"/><rect x="565" y="483" width="3" height="10" fill="#d4433c"/><rect x="566" y="484" width="1" height="8" fill="#fff"/><rect x="570" y="471" width="1" height="25" fill="#5ba05a"/><rect x="569" y="485" width="3" height="10" fill="#5ba05a"/><rect x="574" y="482" width="1" height="8" fill="#d4433c"/><rect x="573" y="490" width="3" height="5" fill="#d4433c"/><rect x="574" y="491" width="1" height="3" fill="#fff"/><rect x="578" y="488" width="1" height="32" fill="#5ba05a"/><rect x="577" y="494" width="3" height="22" fill="#5ba05a"/><rect x="582" y="514" width="1" height="19" fill="#5ba05a"/><rect x="581" y="517" width="3" height="16" fill="#5ba05a"/><rect x="586" y="512" width="1" height="7" fill="#d4433c"/><rect x="586" y="533" width="1" height="4" fill="#d4433c"/><rect x="585" y="519" width="3" height="14" fill="#d4433c"/><rect x="586" y="520" width="1" height="12" fill="#fff"/><rect x="590" y="503" width="1" height="6" fill="#d4433c"/><rect x="590" y="518" width="1" height="3" fill="#d4433c"/><rect x="589" y="509" width="3" height="9" fill="#d4433c"/><rect x="590" y="510" width="1" height="7" fill="#fff"/><rect x="594" y="497" width="1" height="22" fill="#5ba05a"/><rect x="593" y="510" width="3" height="4" fill="#5ba05a"/><rect x="598" y="494" width="1" height="7" fill="#d4433c"/><rect x="597" y="501" width="3" height="17" fill="#d4433c"/><rect x="598" y="502" width="1" height="15" fill="#fff"/><rect x="602" y="487" width="1" height="7" fill="#d4433c"/><rect x="602" y="501" width="1" height="2" fill="#d4433c"/><rect x="601" y="494" width="3" height="7" fill="#d4433c"/><rect x="602" y="495" width="1" height="5" fill="#fff"/><rect x="606" y="464" width="1" height="5" fill="#d4433c"/><rect x="605" y="469" width="3" height="28" fill="#d4433c"/><rect x="606" y="470" width="1" height="26" fill="#fff"/><rect x="610" y="447" width="1" height="4" fill="#d4433c"/><rect x="610" y="471" width="1" height="2" fill="#d4433c"/><rect x="609" y="451" width="3" height="20" fill="#d4433c"/><rect x="610" y="452" width="1" height="18" fill="#fff"/><rect x="614" y="443" width="1" height="9" fill="#d4433c"/><rect x="613" y="452" width="3" height="5" fill="#d4433c"/><rect x="614" y="453" width="1" height="3" fill="#fff"/><rect x="618" y="448" width="1" height="18" fill="#5ba05a"/><rect x="617" y="455" width="3" height="7" fill="#5ba05a"/><rect x="622" y="452" width="1" height="8" fill="#d4433c"/><rect x="622" y="463" width="1" height="5" fill="#d4433c"/><rect x="621" y="460" width="3" height="3" fill="#d4433c"/><rect x="622" y="461" width="1" height="1" fill="#fff"/><rect x="626" y="444" width="1" height="10" fill="#d4433c"/><rect x="626" y="460" width="1" height="4" fill="#d4433c"/><rect x="625" y="454" width="3" height="6" fill="#d4433c"/><rect x="626" y="455" width="1" height="4" fill="#fff"/><rect x="630" y="433" width="1" height="8" fill="#d4433c"/><rect x="629" y="441" width="3" height="14" fill="#d4433c"/><rect x="630" y="442" width="1" height="12" fill="#fff"/><rect x="634" y="439" width="1" height="12" fill="#5ba05a"/><rect x="633" y="441" width="3" height="3" fill="#5ba05a"/><rect x="638" y="440" width="1" height="11" fill="#5ba05a"/><rect x="637" y="446" width="3" height="5" fill="#5ba05a"/><rect x="642" y="442" width="1" height="6" fill="#d4433c"/><rect x="641" y="448" width="3" height="3" fill="#d4433c"/><rect x="642" y="449" width="1" height="1" fill="#fff"/><rect x="646" y="438" width="1" height="9" fill="#d4433c"/><rect x="646" y="449" width="1" height="5" fill="#d4433c"/><rect x="645" y="447" width="3" height="2" fill="#d4433c"/><rect x="650" y="413" width="1" height="7" fill="#d4433c"/><rect x="650" y="448" width="1" height="6" fill="#d4433c"/><rect x="649" y="420" width="3" height="28" fill="#d4433c"/><rect x="650" y="421" width="1" height="26" fill="#fff"/><rect x="654" y="413" width="1" height="23" fill="#5ba05a"/><rect x="653" y="422" width="3" height="6" fill="#5ba05a"/><rect x="658" y="411" width="1" height="2" fill="#d4433c"/><rect x="657" y="413" width="3" height="20" fill="#d4433c"/><rect x="658" y="414" width="1" height="18" fill="#fff"/><rect x="662" y="395" width="1" height="15" fill="#d4433c"/><rect x="662" y="414" width="1" height="1" fill="#d4433c"/><rect x="661" y="410" width="3" height="4" fill="#d4433c"/><rect x="662" y="411" width="1" height="2" fill="#fff"/><rect x="666" y="403" width="1" height="13" fill="#5ba05a"/><rect x="665" y="410" width="3" height="2" fill="#5ba05a"/><rect x="670" y="402" width="1" height="4" fill="#d4433c"/><rect x="670" y="413" width="1" height="4" fill="#d4433c"/><rect x="669" y="406" width="3" height="7" fill="#d4433c"/><rect x="670" y="407" width="1" height="5" fill="#fff"/><rect x="674" y="400" width="1" height="23" fill="#5ba05a"/><rect x="673" y="406" width="3" height="14" fill="#5ba05a"/><rect x="678" y="406" width="1" height="6" fill="#d4433c"/><rect x="678" y="422" width="1" height="3" fill="#d4433c"/><rect x="677" y="412" width="3" height="10" fill="#d4433c"/><rect x="678" y="413" width="1" height="8" fill="#fff"/><rect x="682" y="400" width="1" height="25" fill="#5ba05a"/><rect x="681" y="413" width="3" height="5" fill="#5ba05a"/><rect x="686" y="414" width="1" height="22" fill="#5ba05a"/><rect x="685" y="419" width="3" height="11" fill="#5ba05a"/><rect x="690" y="425" width="1" height="10" fill="#5ba05a"/><rect x="689" y="430" width="3" height="2" fill="#5ba05a"/><rect x="694" y="411" width="1" height="16" fill="#d4433c"/><rect x="694" y="432" width="1" height="6" fill="#d4433c"/><rect x="693" y="427" width="3" height="5" fill="#d4433c"/><rect x="694" y="428" width="1" height="3" fill="#fff"/><rect x="698" y="423" width="1" height="16" fill="#5ba05a"/><rect x="697" y="426" width="3" height="6" fill="#5ba05a"/><rect x="702" y="425" width="1" height="29" fill="#5ba05a"/><rect x="701" y="432" width="3" height="18" fill="#5ba05a"/><rect x="706" y="445" width="1" height="27" fill="#5ba05a"/><rect x="705" y="450" width="3" height="1" fill="#5ba05a"/><rect x="710" y="421" width="1" height="13" fill="#d4433c"/><rect x="710" y="451" width="1" height="5" fill="#d4433c"/><rect x="709" y="434" width="3" height="17" fill="#d4433c"/><rect x="710" y="435" width="1" height="15" fill="#fff"/><rect x="714" y="413" width="1" height="11" fill="#d4433c"/><rect x="714" y="434" width="1" height="1" fill="#d4433c"/><rect x="713" y="424" width="3" height="10" fill="#d4433c"/><rect x="714" y="425" width="1" height="8" fill="#fff"/><rect x="718" y="396" width="1" height="9" fill="#d4433c"/><rect x="717" y="405" width="3" height="21" fill="#d4433c"/><rect x="718" y="406" width="1" height="19" fill="#fff"/><rect x="722" y="383" width="1" height="4" fill="#d4433c"/><rect x="721" y="387" width="3" height="19" fill="#d4433c"/><rect x="722" y="388" width="1" height="17" fill="#fff"/><rect x="726" y="371" width="1" height="13" fill="#d4433c"/><rect x="726" y="387" width="1" height="2" fill="#d4433c"/><rect x="725" y="384" width="3" height="3" fill="#d4433c"/><rect x="726" y="385" width="1" height="1" fill="#fff"/><rect x="730" y="371" width="1" height="10" fill="#d4433c"/><rect x="730" y="386" width="1" height="5" fill="#d4433c"/><rect x="729" y="381" width="3" height="5" fill="#d4433c"/><rect x="730" y="382" width="1" height="3" fill="#fff"/><rect x="734" y="376" width="1" height="41" fill="#5ba05a"/><rect x="733" y="381" width="3" height="29" fill="#5ba05a"/><rect x="738" y="408" width="1" height="18" fill="#5ba05a"/><rect x="737" y="413" width="3" height="6" fill="#5ba05a"/><rect x="742" y="410" width="1" height="16" fill="#5ba05a"/><rect x="741" y="419" width="3" height="1" fill="#5ba05a"/><rect x="746" y="418" width="1" height="13" fill="#5ba05a"/><rect x="745" y="421" width="3" height="4" fill="#5ba05a"/><rect x="750" y="411" width="1" height="3" fill="#d4433c"/><rect x="750" y="428" width="1" height="5" fill="#d4433c"/><rect x="749" y="414" width="3" height="14" fill="#d4433c"/><rect x="750" y="415" width="1" height="12" fill="#fff"/><rect x="754" y="409" width="1" height="10" fill="#5ba05a"/><rect x="753" y="414" width="3" height="3" fill="#5ba05a"/></g><polyline fill="none" stroke="#ff00ff" stroke-width="1" stroke-linejoin="round" shape-rendering="crispEdges" points="85.9,440.4 103.4,435.0 129.0,428.6 150.0,426.2 172.0,424.1 215.0,423.5 232.0,421.8 244.0,420.8 270.2,419.6 289.9,417.7 304.9,416.4 322.0,415.5 332.0,414.5 352.0,413.5 372.0,412.5 386.0,411.5 398.0,410.5 408.0,409.6 418.0,409.6 429.0,410.5 440.0,411.2 453.0,411.5 475.0,412.3 503.8,413.9 528.4,416.4 552.9,418.3 577.5,421.3 602.1,425.7 626.7,431.1 640.0,433.8 651.4,436.8 674.8,441.3 698.3,445.6 716.0,448.4 728.0,450.9 753.7,454.8"/><polyline fill="none" stroke="#000" stroke-width="1" stroke-linejoin="round" shape-rendering="crispEdges" points="86.4,291.7 93.7,293.5 104.2,293.5 110.1,296.4 120.6,299.0 125.3,301.1 132.4,308.7 138.2,316.3 145.2,321.0 159.3,335.6 167.5,342.6 174.5,346.1 182.0,352.0 192.4,360.0 222.9,390.4 229.9,393.7 240.0,404.4 248.6,412.0 254.0,420.8 272.8,439.6 280.0,448.3 286.8,456.0 300.9,474.7 312.6,487.6 319.6,497.0 331.3,505.6 340.7,508.2 354.8,512.2 368.8,519.7 376.0,523.2 385.2,526.2 403.9,530.4 407.1,531.7 418.0,536.8 429.7,545.0 434.0,546.9 436.0,547.9 441.9,550.8 452.4,549.6 464.1,549.6 470.0,552.0 475.8,551.7 487.5,549.0 506.3,543.8 515.6,537.9 525.0,535.0 536.0,535.0 546.0,533.8 562.4,527.3 574.2,521.8 585.9,519.5 599.9,516.2 611.6,511.5 623.3,506.2 632.0,499.2 644.4,494.9 667.8,483.2 688.9,472.6 698.3,469.5 710.0,468.5 716.0,464.9 728.0,459.2 738.2,452.4 753.7,445.6"/><line x1="83.8" y1="416.5" x2="854" y2="416.5" stroke="#1e8cff" stroke-width="1.15" stroke-dasharray="3.5 3.18"/><g shape-rendering="crispEdges" fill="#000"><rect x="724" y="371" width="7" height="1"/><rect x="726" y="369" width="1" height="4"/><rect x="316" y="611" width="7" height="1"/><rect x="318" y="610" width="1" height="3"/></g><g shape-rendering="crispEdges"><rect x="86" y="813" width="1" height="28" fill="#5ba05a"/><rect x="90" y="813" width="1" height="17" fill="#5ba05a"/><rect x="94" y="813" width="1" height="9" fill="#5ba05a"/><rect x="98" y="803" width="1" height="11" fill="#d4433c"/><rect x="102" y="809" width="1" height="5" fill="#d4433c"/><rect x="106" y="813" width="1" height="12" fill="#5ba05a"/><rect x="110" y="813" width="1" height="47" fill="#5ba05a"/><rect x="114" y="813" width="1" height="35" fill="#5ba05a"/><rect x="118" y="813" width="1" height="20" fill="#5ba05a"/><rect x="122" y="813" width="1" height="7" fill="#5ba05a"/><rect x="126" y="813" width="1" height="33" fill="#5ba05a"/><rect x="130" y="813" width="1" height="57" fill="#5ba05a"/><rect x="134" y="813" width="1" height="91" fill="#5ba05a"/><rect x="138" y="813" width="1" height="95" fill="#5ba05a"/><rect x="142" y="813" width="1" height="69" fill="#5ba05a"/><rect x="146" y="813" width="1" height="66" fill="#5ba05a"/><rect x="150" y="813" width="1" height="59" fill="#5ba05a"/><rect x="154" y="813" width="1" height="44" fill="#5ba05a"/><rect x="158" y="813" width="1" height="28" fill="#5ba05a"/><rect x="162" y="813" width="1" height="18" fill="#5ba05a"/><rect x="166" y="806" width="1" height="8" fill="#d4433c"/><rect x="170" y="793" width="1" height="21" fill="#d4433c"/><rect x="174" y="784" width="1" height="30" fill="#d4433c"/><rect x="178" y="782" width="1" height="32" fill="#d4433c"/><rect x="182" y="779" width="1" height="35" fill="#d4433c"/><rect x="186" y="783" width="1" height="31" fill="#d4433c"/><rect x="190" y="774" width="1" height="40" fill="#d4433c"/><rect x="194" y="776" width="1" height="38" fill="#d4433c"/><rect x="198" y="776" width="1" height="38" fill="#d4433c"/><rect x="202" y="785" width="1" height="29" fill="#d4433c"/><rect x="206" y="778" width="1" height="36" fill="#d4433c"/><rect x="210" y="759" width="1" height="55" fill="#d4433c"/><rect x="214" y="749" width="1" height="65" fill="#d4433c"/><rect x="218" y="740" width="1" height="74" fill="#d4433c"/><rect x="222" y="748" width="1" height="66" fill="#d4433c"/><rect x="226" y="749" width="1" height="65" fill="#d4433c"/><rect x="230" y="759" width="1" height="55" fill="#d4433c"/><rect x="234" y="768" width="1" height="46" fill="#d4433c"/><rect x="238" y="779" width="1" height="35" fill="#d4433c"/><rect x="242" y="796" width="1" height="18" fill="#d4433c"/><rect x="246" y="813" width="1" height="4" fill="#5ba05a"/><rect x="250" y="813" width="1" height="17" fill="#5ba05a"/><rect x="254" y="813" width="1" height="47" fill="#5ba05a"/><rect x="258" y="813" width="1" height="57" fill="#5ba05a"/><rect x="262" y="813" width="1" height="43" fill="#5ba05a"/><rect x="266" y="813" width="1" height="25" fill="#5ba05a"/><rect x="270" y="813" width="1" height="19" fill="#5ba05a"/><rect x="274" y="813" width="1" height="21" fill="#5ba05a"/><rect x="278" y="813" width="1" height="31" fill="#5ba05a"/><rect x="282" y="813" width="1" height="28" fill="#5ba05a"/><rect x="286" y="813" width="1" height="31" fill="#5ba05a"/><rect x="290" y="813" width="1" height="29" fill="#5ba05a"/><rect x="294" y="813" width="1" height="19" fill="#5ba05a"/><rect x="298" y="813" width="1" height="9" fill="#5ba05a"/><rect x="302" y="813" width="1" height="7" fill="#5ba05a"/><rect x="306" y="813" width="1" height="3" fill="#5ba05a"/><rect x="310" y="813" width="1" height="12" fill="#5ba05a"/><rect x="314" y="813" width="1" height="17" fill="#5ba05a"/><rect x="318" y="813" width="1" height="19" fill="#5ba05a"/><rect x="322" y="807" width="1" height="7" fill="#d4433c"/><rect x="326" y="790" width="1" height="24" fill="#d4433c"/><rect x="330" y="779" width="1" height="35" fill="#d4433c"/><rect x="334" y="768" width="1" height="46" fill="#d4433c"/><rect x="338" y="765" width="1" height="49" fill="#d4433c"/><rect x="342" y="768" width="1" height="46" fill="#d4433c"/><rect x="346" y="772" width="1" height="42" fill="#d4433c"/><rect x="350" y="794" width="1" height="20" fill="#d4433c"/><rect x="354" y="797" width="1" height="17" fill="#d4433c"/><rect x="358" y="813" width="1" height="3" fill="#5ba05a"/><rect x="362" y="813" width="1" height="4" fill="#5ba05a"/><rect x="366" y="813" width="1" height="9" fill="#5ba05a"/><rect x="370" y="813" width="1" height="20" fill="#5ba05a"/><rect x="374" y="813" width="1" height="17" fill="#5ba05a"/><rect x="378" y="809" width="1" height="5" fill="#d4433c"/><rect x="382" y="802" width="1" height="12" fill="#d4433c"/><rect x="386" y="794" width="1" height="20" fill="#d4433c"/><rect x="390" y="796" width="1" height="18" fill="#d4433c"/><rect x="394" y="791" width="1" height="23" fill="#d4433c"/><rect x="398" y="787" width="1" height="27" fill="#d4433c"/><rect x="402" y="784" width="1" height="30" fill="#d4433c"/><rect x="406" y="793" width="1" height="21" fill="#d4433c"/><rect x="410" y="786" width="1" height="28" fill="#d4433c"/><rect x="414" y="789" width="1" height="25" fill="#d4433c"/><rect x="418" y="801" width="1" height="13" fill="#d4433c"/><rect x="422" y="813" width="1" height="13" fill="#5ba05a"/><rect x="426" y="813" width="1" height="27" fill="#5ba05a"/><rect x="430" y="813" width="1" height="24" fill="#5ba05a"/><rect x="434" y="813" width="1" height="7" fill="#5ba05a"/><rect x="438" y="803" width="1" height="11" fill="#d4433c"/><rect x="442" y="789" width="1" height="25" fill="#d4433c"/><rect x="446" y="773" width="1" height="41" fill="#d4433c"/><rect x="450" y="764" width="1" height="50" fill="#d4433c"/><rect x="454" y="779" width="1" height="35" fill="#d4433c"/><rect x="458" y="790" width="1" height="24" fill="#d4433c"/><rect x="462" y="801" width="1" height="13" fill="#d4433c"/><rect x="466" y="813" width="1" height="3" fill="#5ba05a"/><rect x="470" y="813" width="1" height="10" fill="#5ba05a"/><rect x="474" y="813" width="1" height="13" fill="#5ba05a"/><rect x="478" y="813" width="1" height="9" fill="#5ba05a"/><rect x="482" y="813" width="1" height="9" fill="#5ba05a"/><rect x="486" y="813" width="1" height="11" fill="#5ba05a"/><rect x="490" y="813" width="1" height="2" fill="#5ba05a"/><rect x="494" y="809" width="1" height="5" fill="#d4433c"/><rect x="498" y="810" width="1" height="4" fill="#d4433c"/><rect x="502" y="800" width="1" height="14" fill="#d4433c"/><rect x="506" y="795" width="1" height="19" fill="#d4433c"/><rect x="510" y="788" width="1" height="26" fill="#d4433c"/><rect x="514" y="805" width="1" height="9" fill="#d4433c"/><rect x="518" y="809" width="1" height="5" fill="#d4433c"/><rect x="522" y="813" width="1" height="3" fill="#5ba05a"/><rect x="526" y="813" width="1" height="19" fill="#5ba05a"/><rect x="530" y="813" width="1" height="34" fill="#5ba05a"/><rect x="534" y="813" width="1" height="42" fill="#5ba05a"/><rect x="538" y="813" width="1" height="41" fill="#5ba05a"/><rect x="542" y="813" width="1" height="31" fill="#5ba05a"/><rect x="546" y="813" width="1" height="21" fill="#5ba05a"/><rect x="550" y="813" width="1" height="9" fill="#5ba05a"/><rect x="554" y="812" width="1" height="2" fill="#d4433c"/><rect x="558" y="812" width="1" height="2" fill="#d4433c"/><rect x="562" y="805" width="1" height="9" fill="#d4433c"/><rect x="566" y="798" width="1" height="16" fill="#d4433c"/><rect x="570" y="802" width="1" height="12" fill="#d4433c"/><rect x="574" y="801" width="1" height="13" fill="#d4433c"/><rect x="578" y="813" width="1" height="5" fill="#5ba05a"/><rect x="582" y="813" width="1" height="20" fill="#5ba05a"/><rect x="586" y="813" width="1" height="20" fill="#5ba05a"/><rect x="590" y="813" width="1" height="14" fill="#5ba05a"/><rect x="594" y="813" width="1" height="11" fill="#5ba05a"/><rect x="598" y="813" width="1" height="3" fill="#5ba05a"/><rect x="602" y="807" width="1" height="7" fill="#d4433c"/><rect x="606" y="791" width="1" height="23" fill="#d4433c"/><rect x="610" y="777" width="1" height="37" fill="#d4433c"/><rect x="614" y="772" width="1" height="42" fill="#d4433c"/><rect x="618" y="779" width="1" height="35" fill="#d4433c"/><rect x="622" y="786" width="1" height="28" fill="#d4433c"/><rect x="626" y="790" width="1" height="24" fill="#d4433c"/><rect x="630" y="789" width="1" height="25" fill="#d4433c"/><rect x="634" y="794" width="1" height="20" fill="#d4433c"/><rect x="638" y="803" width="1" height="11" fill="#d4433c"/><rect x="642" y="808" width="1" height="6" fill="#d4433c"/><rect x="646" y="813" width="1" height="1" fill="#5ba05a"/><rect x="650" y="804" width="1" height="10" fill="#d4433c"/><rect x="654" y="805" width="1" height="9" fill="#d4433c"/><rect x="658" y="801" width="1" height="13" fill="#d4433c"/><rect x="662" y="800" width="1" height="14" fill="#d4433c"/><rect x="666" y="803" width="1" height="11" fill="#d4433c"/><rect x="670" y="805" width="1" height="9" fill="#d4433c"/><rect x="674" y="813" width="1" height="3" fill="#5ba05a"/><rect x="678" y="813" width="1" height="6" fill="#5ba05a"/><rect x="682" y="813" width="1" height="12" fill="#5ba05a"/><rect x="686" y="813" width="1" height="22" fill="#5ba05a"/><rect x="690" y="813" width="1" height="27" fill="#5ba05a"/><rect x="694" y="813" width="1" height="27" fill="#5ba05a"/><rect x="698" y="813" width="1" height="27" fill="#5ba05a"/><rect x="702" y="813" width="1" height="36" fill="#5ba05a"/><rect x="706" y="813" width="1" height="38" fill="#5ba05a"/><rect x="710" y="813" width="1" height="27" fill="#5ba05a"/><rect x="714" y="813" width="1" height="16" fill="#5ba05a"/><rect x="718" y="812" width="1" height="2" fill="#d4433c"/><rect x="722" y="795" width="1" height="19" fill="#d4433c"/><rect x="726" y="787" width="1" height="27" fill="#d4433c"/><rect x="730" y="783" width="1" height="31" fill="#d4433c"/><rect x="734" y="799" width="1" height="15" fill="#d4433c"/><rect x="738" y="813" width="1" height="2" fill="#5ba05a"/><rect x="742" y="813" width="1" height="12" fill="#5ba05a"/><rect x="746" y="813" width="1" height="19" fill="#5ba05a"/><rect x="750" y="813" width="1" height="16" fill="#5ba05a"/><rect x="754" y="813" width="1" height="16" fill="#5ba05a"/></g><polyline fill="none" stroke="#0000a8" stroke-width="1" stroke-linejoin="round" shape-rendering="crispEdges" points="86.4,819.4 95.2,822.6 103.1,820.6 108.3,824.7 114.5,832.6 122.4,835.8 127.7,842.3 132.9,853.7 138.2,869.5 143.5,881.8 148.7,892.3 155.8,900.2 163.7,905.5 169.8,902.0 178.6,894.1 187.4,886.2 196.2,876.5 206.7,865.1 215.5,848.4 222.5,832.6 226.0,825.2 233.0,814.1 239.2,807.1 243.6,805.7 250.6,808.0 255.0,814.1 261.1,825.6 266.4,830.0 273.4,833.5 282.2,841.4 291.0,849.6 298.0,852.3 306.8,854.0 313.8,856.8 320.0,860.2 326.1,856.3 333.1,847.5 340.2,837.9 347.2,829.1 354.2,825.0 361.3,825.6 366.5,827.7 371.8,830.8 374.4,832.6 380.5,830.8 387.6,826.4 396.3,822.0 405.1,814.1 412.2,808.9 418.3,806.2 424.5,808.9 430.6,812.9 435.0,814.1 442.0,811.2 449.0,801.8 456.1,793.1 461.3,790.4 466.6,791.0 473.6,793.1 482.4,795.7 489.4,798.0 498.2,796.6 505.3,793.1 512.3,789.0 514.0,788.3 521.0,788.3 528.1,793.1 535.1,801.0 542.1,808.0 549.1,812.4 556.2,812.4 563.2,810.6 570.2,807.6 575.5,806.6 582.5,809.8 589.5,812.9 596.6,815.0 601.8,814.1 608.9,808.9 615.9,800.1 622.9,793.9 633.4,787.3 642.2,785.2 651.0,783.4 658.0,780.8 668.5,778.1 679.1,777.8 686.1,782.2 693.1,787.8 700.2,794.8 707.2,802.4 714.2,806.6 719.5,806.2 726.5,800.1 733.5,796.1 738.8,795.7 745.8,799.2 753.7,802.7"/><polyline fill="none" stroke="#000" stroke-width="1" stroke-linejoin="round" shape-rendering="crispEdges" points="86.4,831.7 90.8,830.0 95.2,825.6 98.3,816.3 101.3,817.7 104.8,822.9 108.3,837.9 111.0,851.0 114.5,850.2 118.9,844.9 122.4,839.3 125.9,853.7 130.3,878.3 134.7,904.6 138.2,917.3 141.7,912.9 146.1,918.7 152.3,921.3 155.8,919.5 159.3,915.1 162.8,911.6 164.6,906.4 166.3,899.3 169.8,892.3 175.1,881.8 182.1,873.9 186.5,871.2 190.9,861.6 197.9,854.5 203.2,854.5 206.7,846.6 212.0,825.6 217.3,806.2 222.5,799.2 227.8,791.3 233.0,789.6 238.3,791.3 242.7,797.5 247.1,809.8 250.6,816.8 255.0,836.1 258.5,847.5 262.0,847.5 266.4,841.4 269.9,840.8 274.3,846.6 277.8,852.8 282.2,855.4 286.6,860.7 290.5,863.7 294.5,860.7 298.9,856.8 303.3,856.3 306.8,854.5 310.3,860.7 313.8,865.1 318.6,868.6 321.7,855.4 326.1,843.1 330.5,832.6 334.9,821.2 338.4,815.9 342.8,811.2 346.3,809.8 349.8,816.8 354.2,818.5 358.6,826.4 363.0,827.3 366.5,832.6 370.9,839.6 373.9,840.8 377.9,830.8 382.3,824.7 386.7,818.5 391.1,816.8 396.3,809.8 402.5,802.7 406.9,803.1 411.3,796.2 414.8,796.2 419.2,802.7 422.7,814.1 426.2,822.9 429.7,825.0 433.2,819.4 436.7,811.2 442.0,800.1 446.4,786.0 450.8,775.5 456.1,778.1 461.3,783.4 465.7,791.3 470.1,795.7 474.5,799.2 478.9,798.7 483.3,800.1 486.8,802.7 491.2,796.6 494.7,794.8 499.1,795.7 503.5,787.8 510.5,777.6 514.0,783.4 519.3,786.6 523.7,793.1 528.1,805.4 533.3,818.5 538.6,824.3 545.6,822.0 550.0,816.8 554.4,811.9 558.8,811.9 563.2,807.1 566.7,801.3 570.2,802.7 574.6,801.8 579.0,811.5 583.4,820.3 587.8,820.8 593.0,820.3 597.4,816.8 601.8,811.5 606.2,801.8 610.6,788.7 614.1,781.6 618.5,781.6 623.8,781.6 629.1,778.1 634.3,776.4 639.6,780.8 645.7,783.8 650.1,778.7 654.5,778.1 659.8,773.7 662.4,772.5 670.3,772.5 673.8,777.8 679.1,781.6 684.3,789.6 689.6,797.5 694.9,801.8 700.2,807.6 703.7,815.0 707.2,819.8 712.5,816.8 716.0,811.5 719.5,801.8 723.0,793.1 726.5,786.9 730.4,782.5 734.4,789.6 738.8,797.5 745.8,808.0 751.1,808.5 753.7,809.8"/><g shape-rendering="crispEdges"><rect x="102" y="923" width="1" height="5" fill="#ccd5de"/><rect x="190" y="923" width="1" height="5" fill="#ccd5de"/><rect x="278" y="923" width="1" height="5" fill="#ccd5de"/><rect x="362" y="923" width="1" height="5" fill="#ccd5de"/><rect x="454" y="923" width="1" height="5" fill="#ccd5de"/><rect x="538" y="923" width="1" height="5" fill="#ccd5de"/><rect x="626" y="923" width="1" height="5" fill="#ccd5de"/><rect x="718" y="923" width="1" height="5" fill="#ccd5de"/></g><text x="85" y="34.6" font-size="12" fill="#000" stroke="#000" stroke-width="0.2" letter-spacing="-0.1">美元加元</text><text x="133" y="34.6" font-size="12" fill="#ff7800" letter-spacing="-0.1">【日线】</text><text x="23.5" y="12" font-size="13" fill="#3c4656">返回</text><text x="94.5" y="12" font-size="13" fill="#3c4656">首页</text><text x="364" y="12" font-size="12.5" fill="#3c4656">日</text><text x="565.5" y="12" font-size="13" fill="#3c4656">日</text><text x="593.5" y="12" font-size="13" fill="#3c4656">周</text><text x="621.5" y="12" font-size="13" fill="#3c4656">月</text><text x="649.5" y="12" font-size="13" fill="#3c4656">年</text><text x="701" y="12" font-size="13" fill="#3c4656">更多</text><clipPath id="sbc"><rect x="0" y="21" width="13" height="212"/></clipPath><g clip-path="url(#sbc)" font-size="12"><text x="-3.5" y="38.5" fill="#111">分</text><text x="-3.5" y="53" fill="#111">时</text><text x="-3.5" y="66.5" fill="#111">图</text><text x="-3.5" y="102.5" fill="#fff">线</text><text x="-3.5" y="116" fill="#fff">图</text><text x="-3.5" y="136.5" fill="#111">闪</text><text x="-3.5" y="151" fill="#111">电</text><text x="-3.5" y="165" fill="#111">图</text><text x="-3.5" y="188" fill="#111">合</text><text x="-3.5" y="202.5" fill="#111">约</text><text x="-3.5" y="216.5" fill="#111">资</text><text x="-3.5" y="230.5" fill="#111">料</text></g><text x="26.5" y="938.3" font-size="13" font-weight="bold" fill="#ff7800">日线</text><text x="20.5" y="954.4" font-size="12.5" fill="#fff">指标</text><text x="60.5" y="954.4" font-size="12.5" fill="#222">模板</text><text x="119" y="954.4" font-size="12.5" fill="#ff7800">指标</text><text x="545" y="954.4" font-size="12" fill="#222">设置</text><path fill="#3c4656" d="M7.5,6.5 L13.5,1 L13.5,4.2 C18.5,4.2 21.2,7.5 21,13.2 C19.6,9.6 17.5,8.6 13.5,8.6 L13.5,12 Z"/><path fill="#3c4656" d="M84.4,0.7 L91.3,7.4 L90.4,8.4 L89,7.1 L89,13.8 L85.8,13.8 L85.8,9.8 L83.2,9.8 L83.2,13.8 L80.1,13.8 L80.1,7.1 L78.6,8.4 L77.7,7.4 Z"/><path fill="none" stroke="#3c4656" stroke-width="2" d="M172.8,12.2 A6.5,6.5 0 1 1 175,6.9"/><path fill="#3c4656" d="M172.4,6.7 L178.1,7 L175.4,10.8 Z"/><g fill="#3c4656"><path d="M216,11 L219,9.1 L219,14.8 L216,14.8 Z"/><path d="M221.2,7.5 L222.6,5.9 L224,7.5 L224,14.8 L221.2,14.8 Z"/><path d="M226.2,10 L229,7.7 L229,14.8 L226.2,14.8 Z"/><path d="M231.2,4.7 L234,2.8 L234,14.8 L231.2,14.8 Z"/></g><path fill="none" stroke="#3c4656" stroke-width="1.3" d="M216.1,8.7 L222.4,2.4 L226.5,6.6 L233.8,-0.3"/><g fill="#3c4656"><rect x="262.1" y="4.7" width="3.5" height="5.3" rx="0.8"/><rect x="263.2" y="4.1" width="1.3" height="7"/><rect x="267.5" y="2.3" width="3.7" height="7.1" rx="0.8"/><rect x="268.6" y="0" width="1.4" height="14.8"/><rect x="272.9" y="7" width="3.7" height="3.8" rx="0.8"/><rect x="274" y="4" width="1.3" height="9.8"/><rect x="278.2" y="6.1" width="3.6" height="3.7" rx="0.8"/><rect x="279.4" y="2.1" width="1.4" height="11.7"/></g><g fill="#3c4656"><rect x="684" y="1.3" width="14" height="2.6" rx="1.2"/><rect x="684" y="6.3" width="14" height="2.6" rx="1.2"/><rect x="684" y="11" width="14" height="2.6" rx="1.2"/></g><path fill="none" stroke="#3c4656" stroke-width="1.8" stroke-linecap="round" d="M755.4,0.7 C753.2,-0.2 752,0.8 751.7,3 L750.3,11.4 C750,13.6 748.7,14.2 746.9,13.4 M748.2,5.7 L753,5.7 M755.7,7.9 L761.3,13.1 M761.3,7.9 L755.7,13.1"/><circle cx="792.3" cy="6.8" r="6.6" fill="none" stroke="#3c4656" stroke-width="1.3"/><path fill="none" stroke="#3c4656" stroke-width="1.5" d="M796.9,11.6 L800.1,14.6 M789.3,6.8 L795.3,6.8"/><circle cx="839.3" cy="6.8" r="6.6" fill="none" stroke="#3c4656" stroke-width="1.3"/><path fill="none" stroke="#3c4656" stroke-width="1.5" d="M843.9,11.6 L847.1,14.6 M836.3,6.8 L842.3,6.8"/><path fill="none" stroke="#3c4656" stroke-width="1.5" d="M839.3,3.8 L839.3,9.8"/><circle cx="185.5" cy="32.5" r="4" fill="none" stroke="#ff8400" stroke-width="1"/><path stroke="#ff8400" stroke-width="1" d="M181.5,32.5 L189.5,32.5 M185.5,28.5 L185.5,36.5"/><g shape-rendering="crispEdges"><rect x="199" y="23" width="12" height="13" fill="#8a8a8a"/><rect x="198" y="22" width="12" height="13" fill="#000080"/><rect x="199" y="23" width="10" height="11" fill="#fff"/></g><path fill="none" stroke="#ff0000" stroke-width="1.3" d="M199.2,29.6 L202.5,25.6 L205.5,28.2 L207.1,26.5 L209,26.5"/><path fill="none" stroke="#0000ff" stroke-width="1.3" d="M199.2,32.8 L202.5,28.7 L205.5,31.7 L207.1,29.6 L209,29.6"/><path stroke="#f00" stroke-width="1.2" d="M27.9,710.0 L29.7,710.0 M26.3,713.8 L27.6,715.1 M22.5,715.4 L22.5,717.2 M18.7,713.8 L17.4,715.1 M17.1,710.0 L15.3,710.0 M18.7,706.2 L17.4,704.9 M22.5,704.6 L22.5,702.8 M26.3,706.2 L27.6,704.9 "/><circle cx="22.5" cy="710" r="3.6" fill="#fff" stroke="#000" stroke-width="1"/><circle cx="22.5" cy="710" r="2" fill="#f00"/><path fill="#ff7800" d="M57,938.5 L61.5,929.3 L66,938.5 Z"/></svg></body></html>
